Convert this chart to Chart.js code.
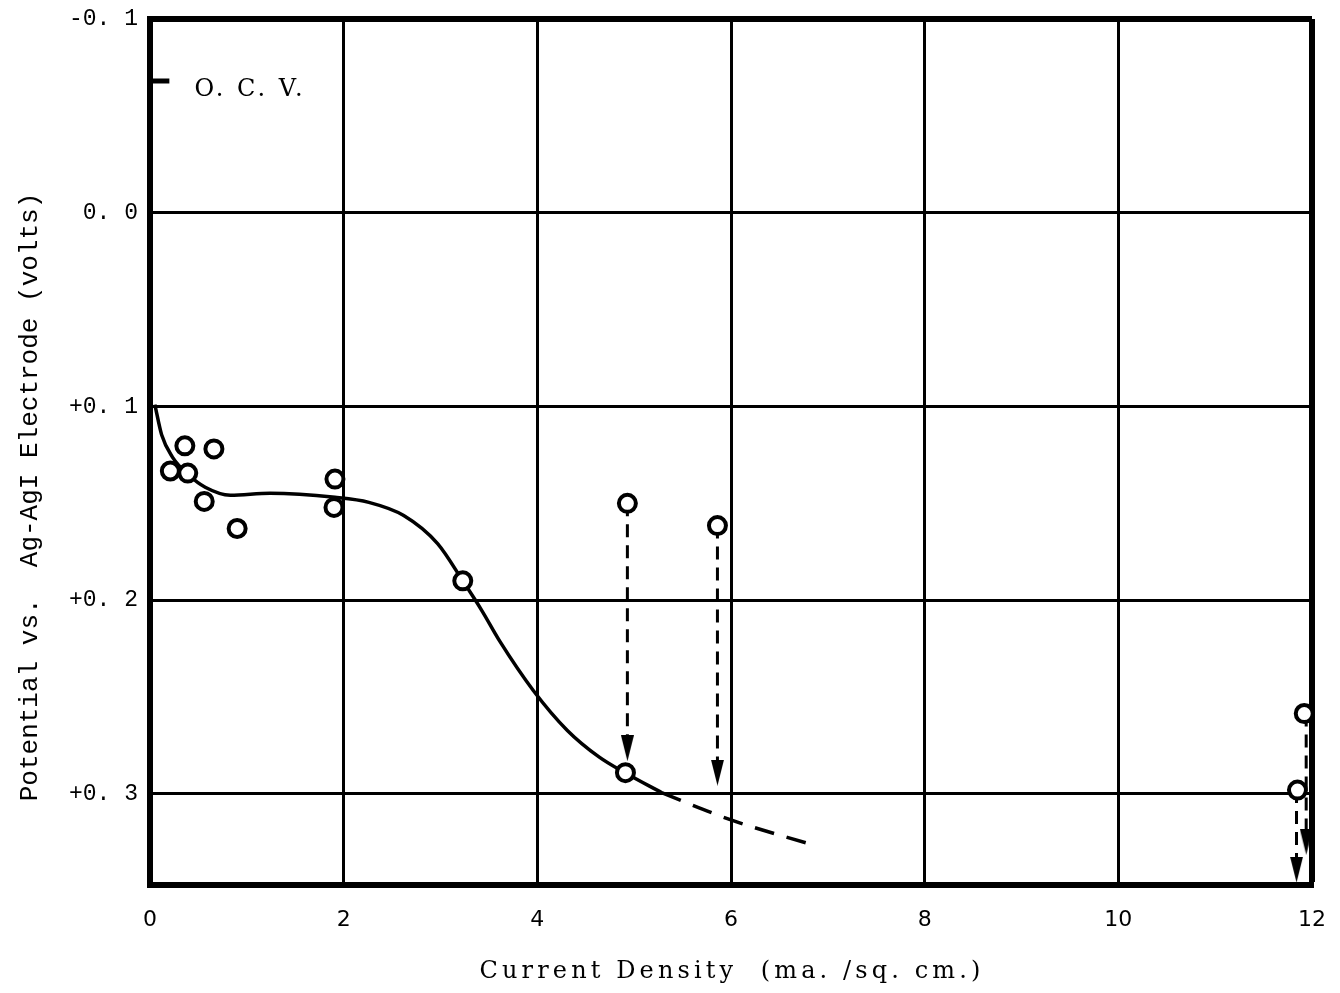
<!DOCTYPE html>
<html>
<head>
<meta charset="utf-8">
<script src="https://cdn.jsdelivr.net/npm/chart.js@4/dist/chart.umd.min.js"></script>
<style>
  html, body { margin: 0; padding: 0; background: #fff; }
  #wrap { width: 1340px; height: 993px; position: relative; }
</style>
</head>
<body>
<div id="wrap"><canvas id="polar"></canvas></div>
<script>
// polarisation curve, potential vs. current density
var xTicks = [0, 2, 4, 6, 8, 10, 12];
var yTicks = [-0.1, 0.0, 0.1, 0.2, 0.3];

// smooth fitted curve (solid part)
var curveX = [0.05, 0.12, 0.23, 0.40, 0.57, 0.83, 1.24, 1.91, 2.26, 2.62, 2.97, 3.23, 3.43, 3.61, 3.96, 4.31, 4.64, 4.91, 5.29];
var curveY = [0.099, 0.1146, 0.126, 0.1354, 0.1417, 0.1458, 0.1448, 0.1469, 0.1495, 0.1563, 0.1708, 0.190, 0.2056, 0.221, 0.2467, 0.2672, 0.281, 0.2892, 0.2995];
// extrapolated part (dashed)
var extX = [5.29, 6.0, 6.87];
var extY = [0.2995, 0.3134, 0.3267];

// measured points
var measX = [0.36, 0.66, 0.21, 0.39, 0.56, 0.90, 1.91, 1.90, 3.23, 4.93, 5.86, 4.91, 11.92, 11.85];
var measY = [0.1203, 0.1219, 0.1333, 0.1344, 0.149, 0.163, 0.1375, 0.1521, 0.190, 0.150, 0.1615, 0.289, 0.2585, 0.298];

// drifting readings: start value -> end of arrow
var driftX = [4.93, 5.86, 11.84, 11.94];
var driftFrom = [0.150, 0.1615, 0.298, 0.2585];
var driftTo = [0.2764, 0.289, 0.339, 0.3247];

// open circuit voltage
var ocvValue = -0.068;
var ocvLabel = 'O. C. V.';

function pts(xs, ys) {
  return xs.map(function (x, i) { return { x: x, y: ys[i] }; });
}

// narrow arrow head used as point style
var head = document.createElement('canvas');
head.width = 13; head.height = 26;
(function () {
  var c = head.getContext('2d');
  c.fillStyle = '#000';
  c.beginPath();
  c.moveTo(0, 0); c.lineTo(13, 0); c.lineTo(6.5, 26);
  c.closePath(); c.fill();
})();

var datasets = [];
datasets.push({
  data: pts(curveX, curveY), showLine: true, borderColor: '#000', borderWidth: 3.5,
  cubicInterpolationMode: 'monotone', pointRadius: 0, order: 3, clip: false
});
datasets.push({
  data: pts(extX, extY), showLine: true, borderColor: '#000', borderWidth: 3.5,
  borderDash: [20, 13], cubicInterpolationMode: 'monotone', pointRadius: 0, order: 3
});
datasets.push({
  data: [{ x: 0, y: ocvValue }, { x: 0.2, y: ocvValue }], showLine: true,
  borderColor: '#000', borderWidth: 5, pointRadius: 0, order: 3, clip: false
});
driftX.forEach(function (x, i) {
  datasets.push({
    data: [{ x: x, y: driftFrom[i] }, { x: x, y: driftTo[i] }], showLine: true,
    borderColor: '#000', borderWidth: 3, borderDash: [13, 8],
    pointRadius: [0, 8], pointStyle: head, order: 2, clip: false
  });
});
datasets.push({
  data: pts(measX, measY), showLine: false, pointRadius: 8.5, pointBorderWidth: 4,
  pointBorderColor: '#000', pointBackgroundColor: '#fff', order: 0, clip: false
});

// axis titles and the O.C.V. note, placed with the scales
var textPlugin = {
  id: 'texts',
  afterDraw: function (chart) {
    var ctx = chart.ctx, xs = chart.scales.x, ys = chart.scales.y;
    ctx.save();
    ctx.fillStyle = '#000';
    ctx.textBaseline = 'middle';

    ctx.font = '24px "DejaVu Serif"';
    ctx.letterSpacing = '3px';
    ctx.textAlign = 'left';
    ctx.fillText(ocvLabel, xs.getPixelForValue(0.46), ys.getPixelForValue(-0.0635));

    var xt = 'Current Density  (ma. /sq. cm.)';
    ctx.font = '24px "DejaVu Serif"';
    ctx.letterSpacing = '0px';
    var w = ctx.measureText(xt).width;
    ctx.letterSpacing = ((505 - w) / xt.length).toFixed(2) + 'px';
    ctx.textAlign = 'center';
    ctx.fillText(xt, 732, 972);

    ctx.translate(30, 497);
    ctx.rotate(-Math.PI / 2);
    ctx.font = '26px "Liberation Mono"';
    ctx.letterSpacing = '0px';
    ctx.fillText('Potential vs.  Ag-AgI Electrode (volts)', 0, 0);
    ctx.restore();
  }
};

new Chart(document.getElementById('polar'), {
  type: 'scatter',
  data: { datasets: datasets },
  plugins: [textPlugin],
  options: {
    responsive: true,
    maintainAspectRatio: false,
    animation: false,
    layout: { padding: { top: 19, right: 28, left: 0, bottom: 0 } },
    plugins: { legend: { display: false }, tooltip: { enabled: false } },
    scales: {
      x: {
        type: 'linear', min: 0, max: 12,
        afterBuildTicks: function (s) { s.ticks = xTicks.map(function (v) { return { value: v }; }); },
        afterFit: function (s) { s.height = 108; s.paddingLeft = 0; s.paddingRight = 0; },
        grid: {
          color: '#000', drawTicks: false,
          lineWidth: function (c) { return c.tick && c.tick.value === 12 ? 6 : 3; }
        },
        border: { color: '#000', width: 6 },
        ticks: { color: '#000', padding: 22, font: { family: 'DejaVu Sans', size: 22 } }
      },
      y: {
        type: 'linear', reverse: true, min: -0.1, max: 0.347,
        afterBuildTicks: function (s) { s.ticks = yTicks.map(function (v) { return { value: v }; }); },
        afterFit: function (s) { s.width = 150; s.paddingTop = 0; s.paddingBottom = 0; },
        grid: {
          color: '#000', drawTicks: false,
          lineWidth: function (c) { return c.tick && c.tick.value === -0.1 ? 6 : 3; }
        },
        border: { color: '#000', width: 6 },
        ticks: {
          color: '#000', padding: 12, font: { family: 'Liberation Mono', size: 23 },
          callback: function (v) {
            var r = Math.round(v * 10);
            var sign = r > 0 ? '+' : (r < 0 ? '-' : '');
            return sign + '0. ' + Math.abs(r);
          }
        }
      }
    }
  }
});
</script>
</body>
</html>
